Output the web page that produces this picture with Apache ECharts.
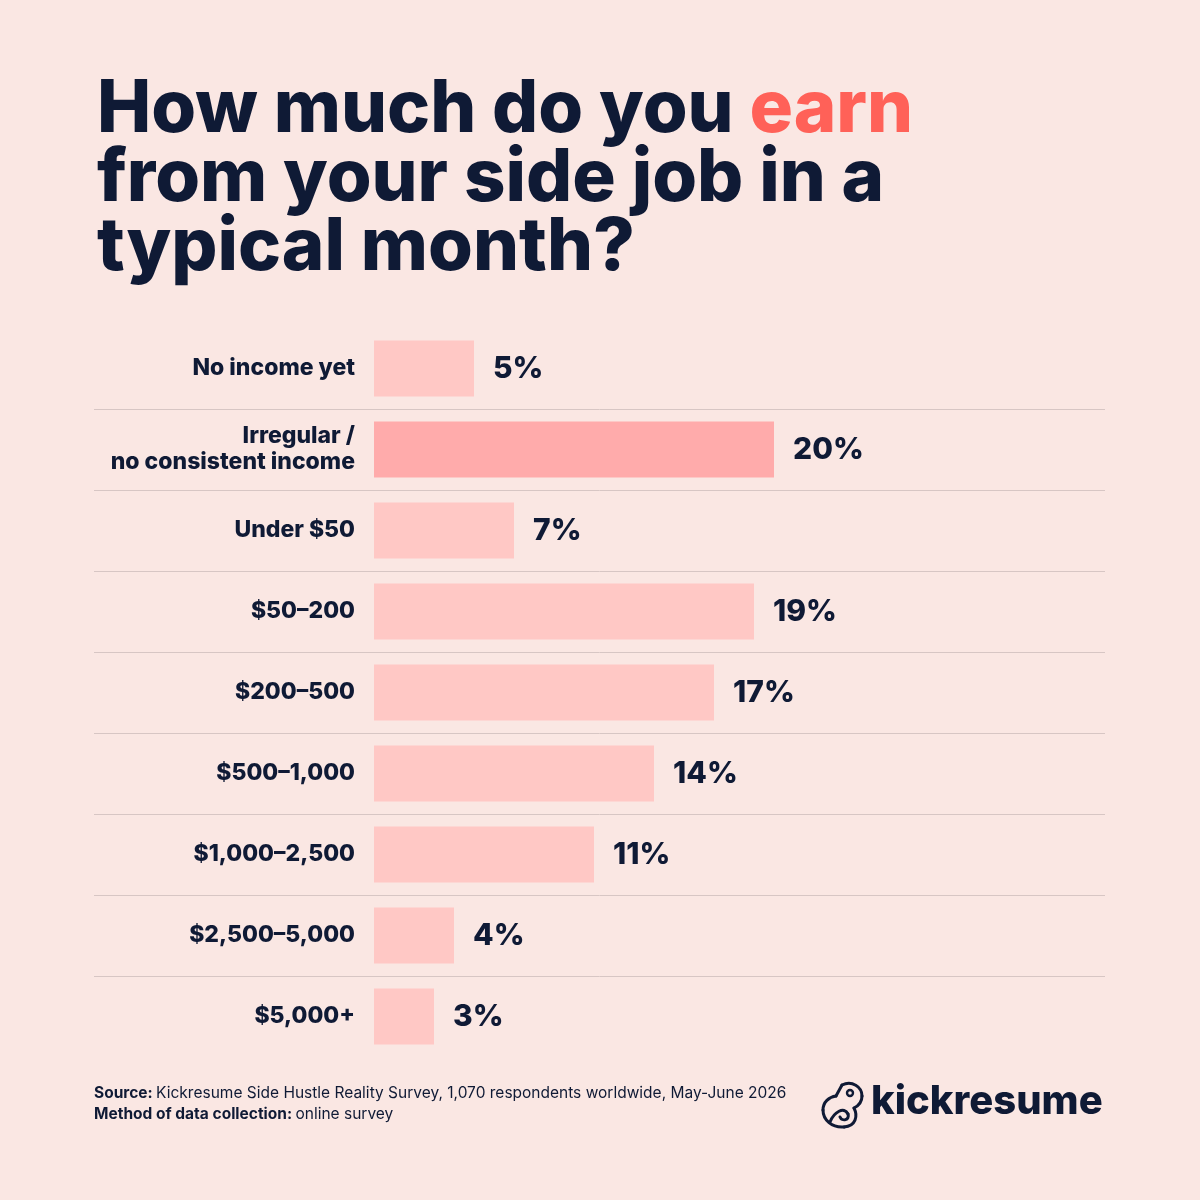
<!DOCTYPE html>
<html><head><meta charset="utf-8">
<script src="https://cdn.jsdelivr.net/npm/echarts@6/dist/echarts.min.js"></script>
<style>html,body{margin:0;padding:0;background:#FAE7E3}#c{width:1200px;height:1200px}</style>
</head><body><div id="c"></div>
<script>
const categories = ["No income yet", "Irregular /\nno consistent income", "Under $50", "$50–200", "$200–500", "$500–1,000", "$1,000–2,500", "$2,500–5,000", "$5,000+"];
const values = [5, 20, 7, 19, 17, 14, 11, 4, 3];
const highlightIndex = 1;
const titleLines = ["How much do you ", "earn", "from your side job in a", "typical month?"];
const sourceText = "Kickresume Side Hustle Reality Survey, 1,070 respondents worldwide, May-June 2026";
const methodText = "online survey";

const navy = "#0F1A35";
const FONT = "Inter";
function bz(p) {
  return {type: 'bezierCurve', shape: {x1: p[0], y1: p[1], cpx1: p[2], cpy1: p[3], cpx2: p[4], cpy2: p[5], x2: p[6], y2: p[7]},
    style: {fill: 'none', stroke: navy, lineWidth: 3, lineCap: 'round'}};
}
const iconCurves = [
  [842, 1085, 852, 1080, 862, 1087, 862, 1096],
  [862, 1096, 862, 1102, 858, 1106, 854, 1108],
  [854, 1108, 858, 1116, 856, 1126, 844, 1127],
  [844, 1127, 832, 1128, 823, 1120, 823, 1110],
  [823, 1110, 823, 1102, 829, 1097, 836, 1096],
  [830, 1122, 834, 1112, 844, 1106, 848, 1114],
  [848, 1114, 850, 1120, 842, 1122, 840, 1117]
];
const chart = echarts.init(document.getElementById('c'), null, {renderer: 'canvas'});
chart.setOption({
  backgroundColor: "#FAE7E3",
  title: {
    left: 92, top: 71,
    text: "{a|" + titleLines[0] + "}{b|" + titleLines[1] + "}\n{a|" + titleLines[2] + "}\n{a|" + titleLines[3] + "}",
    textStyle: {
      rich: {
        a: {fontFamily: FONT, fontSize: 72.5, fontWeight: 800, color: navy, lineHeight: 69},
        b: {fontFamily: FONT, fontSize: 72.5, fontWeight: 800, color: "#FF6158", lineHeight: 69}
      }
    }
  },
  grid: {left: 94, right: 95, top: 328, height: 729, containLabel: false},
  xAxis: {type: 'value', min: -14, max: 36.55, show: false},
  yAxis: {
    type: 'category', inverse: true, data: categories, offset: -280,
    axisLine: {show: false}, axisTick: {show: false},
    axisLabel: {margin: 19, fontFamily: FONT, fontSize: 23, fontWeight: 800, color: navy, align: 'right', lineHeight: 26},
    splitLine: {show: true, showMinLine: false, showMaxLine: false, lineStyle: {color: "#D7C6C4", width: 1}}
  },
  series: [{
    type: 'bar', barWidth: 56, animation: false,
    data: values.map((v, i) => ({value: v, itemStyle: {color: i === highlightIndex ? "#FFABAB" : "#FFC8C5"}})),
    label: {show: true, position: 'right', distance: 19, formatter: '{c}%', fontFamily: FONT, fontSize: 30, fontWeight: 800, color: navy}
  }],
  graphic: [
    {type: 'text', left: 94, top: 1085, style: {
      text: "{b|Source:} {r|" + sourceText + "}\n{b|Method of data collection:} {r|" + methodText + "}",
      rich: {
        b: {fontFamily: FONT, fontSize: 15.5, fontWeight: 700, fill: navy, lineHeight: 21},
        r: {fontFamily: FONT, fontSize: 15.5, fontWeight: 400, fill: navy, lineHeight: 21}
      }
    }},
    {type: 'text', left: 871, top: 1082, style: {text: "kickresume", fontFamily: FONT, fontSize: 40, fontWeight: 800, fill: navy}},
    {type: 'line', shape: {x1: 836, y1: 1096, x2: 842, y2: 1085}, style: {stroke: navy, lineWidth: 3, lineCap: 'round'}},
    {type: 'circle', shape: {cx: 850, cy: 1093, r: 3}, style: {fill: 'none', stroke: navy, lineWidth: 2.4}}
  ].concat(iconCurves.map(bz))
});
</script></body></html>
